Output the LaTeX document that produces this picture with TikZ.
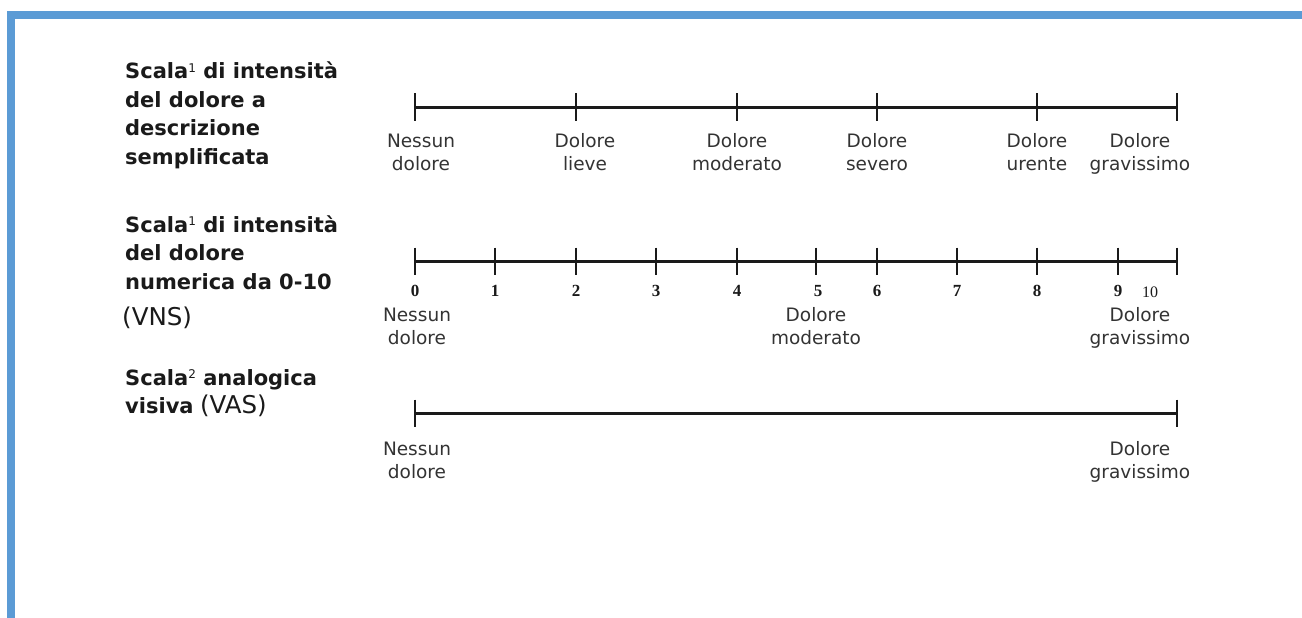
\documentclass[tikz,border=0pt]{standalone}
\usepackage{fontspec}
\setmainfont{DejaVu Sans}
\newfontfamily\numfont{Liberation Serif}
\definecolor{frameblue}{HTML}{5B9BD5}
\definecolor{ink}{HTML}{1A1A1A}
\definecolor{labgray}{HTML}{333333}
\newcommand{\supmark}[1]{\raisebox{0.55ex}{\fontsize{12}{12}\selectfont\mdseries #1}}
\begin{document}
\begin{tikzpicture}[x=1pt,y=-1pt,
  scaleline/.style={line width=3pt, ink},
  tickmark/.style={line width=2.8pt, ink},
  lab/.style={font=\fontsize{18.5}{22.5}\selectfont, align=center, anchor=base, inner sep=0pt, text=labgray},
  ttl/.style={font=\fontsize{21}{28.5}\selectfont\bfseries, align=left, anchor=base west, inner sep=0pt, text=ink},
  abbr/.style={font=\fontsize{24.5}{28}\selectfont, anchor=base west, inner sep=0pt, text=ink},
  num/.style={font=\fontsize{17}{18}\selectfont\numfont\bfseries, anchor=base, inner sep=0pt, text=ink},
  numten/.style={font=\fontsize{16}{18}\selectfont\numfont, anchor=base, inner sep=0pt, text=ink},
]
\useasboundingbox (0,0) rectangle (1302,618);
\fill[white] (0,0) rectangle (1302,618);
\fill[frameblue] (7,11) rectangle (1302,19);
\fill[frameblue] (7,11) rectangle (15,618);

% ---------- titles (base = baseline of the last line)
\node[ttl] (t1) at (125,164) {Scala\supmark{1} di intensità\\del dolore a\\descrizione\\semplificata};
\node[ttl] (t2) at (125,289) {Scala\supmark{1} di intensità\\del dolore\\numerica da 0-10};
\node[abbr] (t2b) at (122,325) {(VNS)};
\node[ttl] (t3) at (125,385) {Scala\supmark{2} analogica};
\node[ttl] (t3b) at (125,413) {visiva};
\node[abbr] (t3c) at (t3b.base east) [xshift=6pt] {(VAS)};

% ---------- scale 1
\foreach \x/\n in {415/0,576/1,737/2,877/3,1037/4,1177/5}
  \coordinate (a\n) at (\x,107);
\draw[scaleline] (a0) -- (a5);
\foreach \n in {0,...,5}
  \draw[tickmark] (a\n) ++(0,-13.5) -- ++(0,27);
\node[lab] (l10) at (421,170) {Nessun\\dolore};
\node[lab] (l11) at (585,170) {Dolore\\lieve};
\node[lab] (l12) at (737,170) {Dolore\\moderato};
\node[lab] (l13) at (877,170) {Dolore\\severo};
\node[lab] (l14) at (1037,170) {Dolore\\urente};
\node[lab] (l15) at (1140,170) {Dolore\\gravissimo};

% ---------- scale 2
\foreach \x/\n in {415/0,495/1,576/2,656/3,737/4,816/5,877/6,957/7,1037/8,1118/9,1177/10}
  \coordinate (b\n) at (\x,261);
\draw[scaleline] (b0) -- (b10);
\foreach \n in {0,...,10}
  \draw[tickmark] (b\n) ++(0,-13.5) -- ++(0,27);
\foreach \x/\n in {415/0,495/1,576/2,656/3,737/4,818/5,877/6,957/7,1037/8,1118/9}
  \node[num] (n\n) at (\x,296) {\n};
\node[numten] (n10) at (1150,297) {10};
\node[lab] (l20) at (417,344) {Nessun\\dolore};
\node[lab] (l21) at (816,344) {Dolore\\moderato};
\node[lab] (l22) at (1140,344) {Dolore\\gravissimo};

% ---------- scale 3
\coordinate (c0) at (415,413);
\coordinate (c1) at (1177,413);
\draw[scaleline] (c0) -- (c1);
\foreach \n in {0,1}
  \draw[tickmark] (c\n) ++(0,-13.5) -- ++(0,27);
\node[lab] (l30) at (417,478) {Nessun\\dolore};
\node[lab] (l31) at (1140,478) {Dolore\\gravissimo};
\end{tikzpicture}
\end{document}
